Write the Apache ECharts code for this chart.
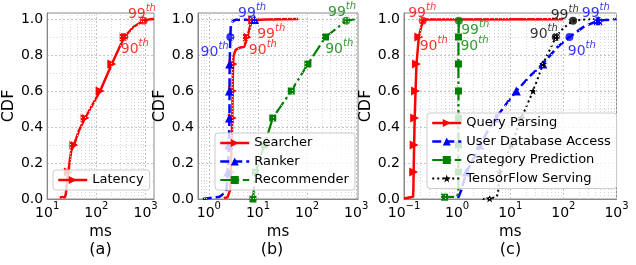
<!DOCTYPE html>
<html><head><meta charset="utf-8">
<script src="https://cdn.jsdelivr.net/npm/echarts@6/dist/echarts.min.js"></script>
<style>html,body{margin:0;padding:0;background:#fff}#c{width:636px;height:265px}</style>
</head><body><div id="c"></div><script>
// ---------------- data (ms, CDF) ----------------
// (a)
const latencyX = [18, 23, 24, 25.5, 27, 29, 31, 35, 45, 59, 119, 206, 367, 570, 912, 1200, 1480];
const latencyY = [0.01, 0.01, 0.03, 0.10, 0.15, 0.22, 0.27, 0.30, 0.385, 0.45, 0.60, 0.75, 0.90, 0.957, 0.99, 0.998, 1.0];
const latencyMarks = [4, 7, 9, 10, 11, 12];
const latencyPct = [12, 14];
// (b)
const searcherX = [2.0, 2.4, 2.7, 2.8, 2.9, 3.0, 3.04, 3.1, 3.2, 3.55, 4.2, 5.25, 6.1, 6.6, 7.2, 7.8, 15, 66];
const searcherY = [0.005, 0.01, 0.05, 0.15, 0.30, 0.45, 0.60, 0.75, 0.80, 0.83, 0.84, 0.846, 0.90, 0.94, 0.976, 0.994, 0.997, 1.0];
const searcherMarks = [3, 4, 5, 6, 7, 12, 15];
const searcherPct = [];
const rankerX = [0.75, 1.65, 2.26, 2.44, 2.55, 2.63, 2.63, 2.65, 2.73, 2.8, 3.1, 3.6, 8.5];
const rankerY = [0.0, 0.013, 0.04, 0.15, 0.30, 0.45, 0.60, 0.75, 0.90, 0.965, 0.99, 0.996, 0.997];
const rankerMarks = [3, 4, 5, 6, 7, 12];
const rankerPct = [8];
const recommenderX = [7.9, 8.9, 13.5, 20, 47.7, 104, 238, 628, 1000];
const recommenderY = [0.0, 0.15, 0.30, 0.45, 0.60, 0.75, 0.90, 0.99, 1.0];
const recommenderMarks = [0, 1, 2, 3, 4, 5, 6];
const recommenderPct = [7];
// (c)
const queryX = [0.1, 0.148, 0.15, 0.152, 0.155, 0.159, 0.165, 0.172, 0.19, 0.225, 0.26, 100];
const queryY = [0.003, 0.012, 0.05, 0.15, 0.30, 0.45, 0.60, 0.75, 0.90, 0.99, 0.997, 0.998];
const queryMarks = [3, 4, 5, 6, 7, 8];
const queryPct = [9];
const userDbX = [1.04, 1.2, 1.5, 2.0, 2.7, 3.8, 5.4, 8.5, 13, 23, 41, 75, 130, 250, 450, 1000];
const userDbY = [0.005, 0.05, 0.15, 0.22, 0.30, 0.38, 0.45, 0.53, 0.60, 0.68, 0.75, 0.84, 0.90, 0.96, 0.99, 1.0];
const userDbMarks = [2, 4, 6, 8, 10, 14];
const userDbPct = [12, 14];
const categoryX = [0.5, 0.58, 1.0, 1.06, 1.06, 1.06, 1.06, 1.06, 1.06, 1.06, 1.08, 1.1];
const categoryY = [0.01, 0.01, 0.012, 0.05, 0.15, 0.30, 0.45, 0.60, 0.75, 0.90, 0.99, 1.0];
const categoryMarks = [1, 4, 5, 6, 7, 8, 9];
const categoryPct = [10];
const tfX = [3.0, 4.1, 5.5, 5.9, 6.3, 10.5, 16.2, 26.9, 41.5, 72, 100, 152, 250, 380];
const tfY = [0.0, 0.003, 0.01, 0.035, 0.15, 0.30, 0.45, 0.60, 0.75, 0.90, 0.95, 0.99, 0.997, 1.0];
const tfMarks = [1, 4, 5, 6, 7, 8, 9];
const tfPct = [9, 11];
// percentile annotations: [text, ms, cdf, colour key]
const annotA = [['99', 841, 1.039, 'r'], ['90', 603, 0.842, 'r']];
const annotB = [['99', 7.6, 1.044, 'b'], ['90', 1.31, 0.828, 'b'], ['99', 18.6, 0.925, 'r'], ['90', 12.6, 0.839, 'r'], ['99', 516, 1.05, 'g'], ['90', 452, 0.842, 'g']];
const annotC = [['99', 0.22, 1.044, 'r'], ['90', 0.363, 0.861, 'r'], ['99', 2.19, 0.95, 'g'], ['90', 2.12, 0.861, 'g'], ['99', 106, 1.033, 'k'], ['90', 42.8, 0.928, 'k'], ['99', 408, 1.044, 'b'], ['90', 222, 0.833, 'b']];
// axis ranges and tick labels
const xRanges = [[10, 1480], [0.6, 1090], [0.1, 1000]];
const yTicks = [0, 0.2, 0.4, 0.6, 0.8, 1.0];
const panelLabels = ['(a)', '(b)', '(c)'];

// ---------------- styling ----------------
const FONT = 'DejaVu Sans';
const COL = {r: '#ff0000', b: '#0000ff', g: '#008000', k: '#000000'};
const STAR = 'path://M50,0L61.2,34.5L97.6,34.5L68.2,55.9L79.4,90.5L50,69.1L20.6,90.5L31.8,55.9L2.4,34.5L38.8,34.5Z';
const gridBoxes = [
  {left: 47, top: 13, width: 107, height: 186},
  {left: 198, top: 13, width: 160, height: 186},
  {left: 404, top: 13, width: 212.5, height: 186}
];

function logLabel(v) {
  const e = Math.log10(v), r = Math.round(e);
  if (Math.abs(e - r) > 1e-6) return '';
  return '{b|10}{s|' + (r < 0 ? '\u2212' + (-r) : r) + '}';
}
function yLabel(v) {
  for (const t of yTicks) if (Math.abs(v - t) < 1e-6) return t.toFixed(1);
  return '';
}
// minor log grid positions (2..9 x 10^k) inside an axis range
function logMinors(r) {
  const out = [];
  for (let k = Math.floor(Math.log10(r[0])); k <= Math.ceil(Math.log10(r[1])); k++)
    for (let m = 2; m <= 9; m++) {
      const v = m * Math.pow(10, k);
      if (v > r[0] * 1.0001 && v < r[1] * 0.9999) out.push(v);
    }
  return out;
}
const tickRich = {
  b: {fontFamily: FONT, fontSize: 14, color: '#000', lineHeight: 19, verticalAlign: 'bottom'},
  s: {fontFamily: FONT, fontSize: 10, color: '#000', lineHeight: 11, verticalAlign: 'top'}
};

function mkLine(name, X, Y, marks, gi, color, dash, width, symbol, size, rotate) {
  return {
    type: 'line', name, xAxisIndex: gi, yAxisIndex: gi, z: 3,
    data: X.map((x, i) => ({value: [x, Y[i]], symbol: marks.includes(i) ? symbol : 'none'})),
    symbol, symbolSize: size, symbolRotate: rotate, showSymbol: true,
    lineStyle: {color, width, type: dash, cap: 'butt'},
    itemStyle: {color, borderWidth: 0},
    emphasis: {disabled: true}, animation: false
  };
}
function mkCircles(gi, groups) {
  const data = [];
  groups.forEach(([X, Y, idx, c]) => idx.forEach(i => data.push({value: [X[i], Y[i]], itemStyle: {color: COL[c]}})));
  return {type: 'scatter', xAxisIndex: gi, yAxisIndex: gi, z: 4, symbol: 'circle', symbolSize: 8,
    data, animation: false, silent: true, clip: false};
}
function mkGrid(gi) {
  const r = xRanges[gi];
  return {
    type: 'scatter', xAxisIndex: gi, yAxisIndex: gi, z: 1, symbolSize: 0, silent: true, animation: false,
    data: [[r[0], 0]], itemStyle: {color: 'rgba(0,0,0,0)'},
    markLine: {
      silent: true, symbol: ['none', 'none'], animation: false, label: {show: false},
      lineStyle: {color: '#d6d6d6', type: [1, 2], width: 1},
      emphasis: {disabled: true},
      data: logMinors(r).map(v => ({xAxis: v}))
    }
  };
}
function mkAnnot(gi, list) {
  return {
    type: 'scatter', xAxisIndex: gi, yAxisIndex: gi, z: 5, symbolSize: 1, silent: true, clip: false,
    itemStyle: {color: 'rgba(0,0,0,0)'}, animation: false,
    data: list.map(a => ({value: [a[1], a[2]], name: a[0],
      label: {rich: {n: {color: COL[a[3]]}, s: {color: COL[a[3]]}}}})),
    label: {
      show: true, position: 'inside', formatter: p => '{n|' + p.name + '}{s|th}',
      rich: {
        n: {fontFamily: FONT, fontSize: 14, lineHeight: 18, verticalAlign: 'bottom'},
        s: {fontFamily: FONT, fontSize: 10, fontStyle: 'italic', lineHeight: 11, verticalAlign: 'top'}
      }
    }
  };
}

const xAxes = xRanges.map((r, i) => ({
  type: 'log', logBase: 10, gridIndex: i, min: r[0], max: r[1],
  name: 'ms', nameLocation: 'middle', nameGap: 17,
  nameTextStyle: {fontFamily: FONT, fontSize: 15, color: '#000'},
  axisLine: {show: true, lineStyle: {color: '#888', width: 1}},
  axisTick: {show: false},
  axisLabel: {formatter: logLabel, margin: 2, rich: tickRich, showMinLabel: true, showMaxLabel: true},
  splitLine: {show: true, lineStyle: {color: '#c4c4c4', type: [2, 2], width: 1}},
  minorTick: {show: false},
  minorSplitLine: {show: false}
}));
const yAxes = [0, 1, 2].map(i => ({
  type: 'value', gridIndex: i, min: 0, max: 1.0333, interval: 0.2,
  name: 'CDF', nameLocation: 'middle', nameGap: 28,
  nameTextStyle: {fontFamily: FONT, fontSize: 16, color: '#000'},
  axisLine: {show: true, lineStyle: {color: '#888', width: 1}},
  axisTick: {show: false},
  axisLabel: {formatter: yLabel, fontFamily: FONT, fontSize: 14, color: '#000', margin: 4},
  splitLine: {show: true, lineStyle: {color: '#c4c4c4', type: [2, 2], width: 1}},
  minorTick: {show: false, splitNumber: 2},
  minorSplitLine: {show: true, lineStyle: {color: '#d6d6d6', type: [1, 2], width: 1}}
}));

const legendBase = {
  orient: 'vertical', backgroundColor: 'rgba(255,255,255,0.8)', borderColor: '#cccccc', borderWidth: 1,
  borderRadius: 3, padding: [3, 6, 3, 4], itemWidth: 29, itemHeight: 10, itemGap: 4.5, z: 10,
  selectedMode: false, textStyle: {fontFamily: FONT, fontSize: 13, color: '#000', lineHeight: 14},
  lineStyle: {width: 'inherit'}, symbolRotate: 'inherit'
};

const series = [
  mkGrid(0), mkGrid(1), mkGrid(2),
  mkLine('Latency', latencyX, latencyY, latencyMarks, 0, COL.r, 'solid', 2.5, 'triangle', 9, -90),
  mkCircles(0, [[latencyX, latencyY, latencyPct, 'r']]),
  mkAnnot(0, annotA),
  mkLine('Searcher', searcherX, searcherY, searcherMarks, 1, COL.r, 'solid', 2.5, 'triangle', 9, -90),
  mkLine('Ranker', rankerX, rankerY, rankerMarks, 1, COL.b, [9, 4], 2.5, 'triangle', 9, 0),
  mkLine('Recommender', recommenderX, recommenderY, recommenderMarks, 1, COL.g, [13, 3.5, 2.5, 3.5], 2.2, 'rect', 7, 0),
  mkCircles(1, [[searcherX, searcherY, searcherPct, 'r'], [rankerX, rankerY, rankerPct, 'b'], [recommenderX, recommenderY, recommenderPct, 'g']]),
  mkAnnot(1, annotB),
  mkLine('Query Parsing', queryX, queryY, queryMarks, 2, COL.r, 'solid', 2.5, 'triangle', 9, -90),
  mkLine('User Database Access', userDbX, userDbY, userDbMarks, 2, COL.b, [9, 4], 2.5, 'triangle', 9, 0),
  mkLine('Category Prediction', categoryX, categoryY, categoryMarks, 2, COL.g, [13, 3.5, 2.5, 3.5], 2.2, 'rect', 7, 0),
  mkLine('TensorFlow Serving', tfX, tfY, tfMarks, 2, COL.k, [2, 3], 2, STAR, 8, 0),
  mkCircles(2, [[queryX, queryY, queryPct, 'r'], [userDbX, userDbY, userDbPct, 'b'], [categoryX, categoryY, categoryPct, 'g'], [tfX, tfY, tfPct, 'k']]),
  mkAnnot(2, annotC)
];

const chart = echarts.init(document.getElementById('c'), null, {renderer: 'canvas'});
chart.setOption({
  animation: false,
  backgroundColor: '#fff',
  textStyle: {fontFamily: FONT},
  grid: gridBoxes.map(g => Object.assign({show: true, borderColor: '#888', borderWidth: 1, backgroundColor: 'transparent', containLabel: false}, g)),
  xAxis: xAxes,
  yAxis: yAxes,
  legend: [
    Object.assign({}, legendBase, {data: ['Latency'], left: 53, top: 170}),
    Object.assign({}, legendBase, {data: ['Searcher', 'Ranker', 'Recommender'], left: 215, top: 133}),
    Object.assign({}, legendBase, {data: ['Query Parsing', 'User Database Access', 'Category Prediction', 'TensorFlow Serving'], left: 427, top: 113})
  ],
  graphic: panelLabels.map((t, i) => ({
    type: 'text', x: [100.5, 272, 510.5][i], y: 250,
    style: {text: t, fontFamily: FONT, fontSize: 16, fill: '#000', align: 'center', verticalAlign: 'middle'}
  })),
  series
});
</script></body></html>
